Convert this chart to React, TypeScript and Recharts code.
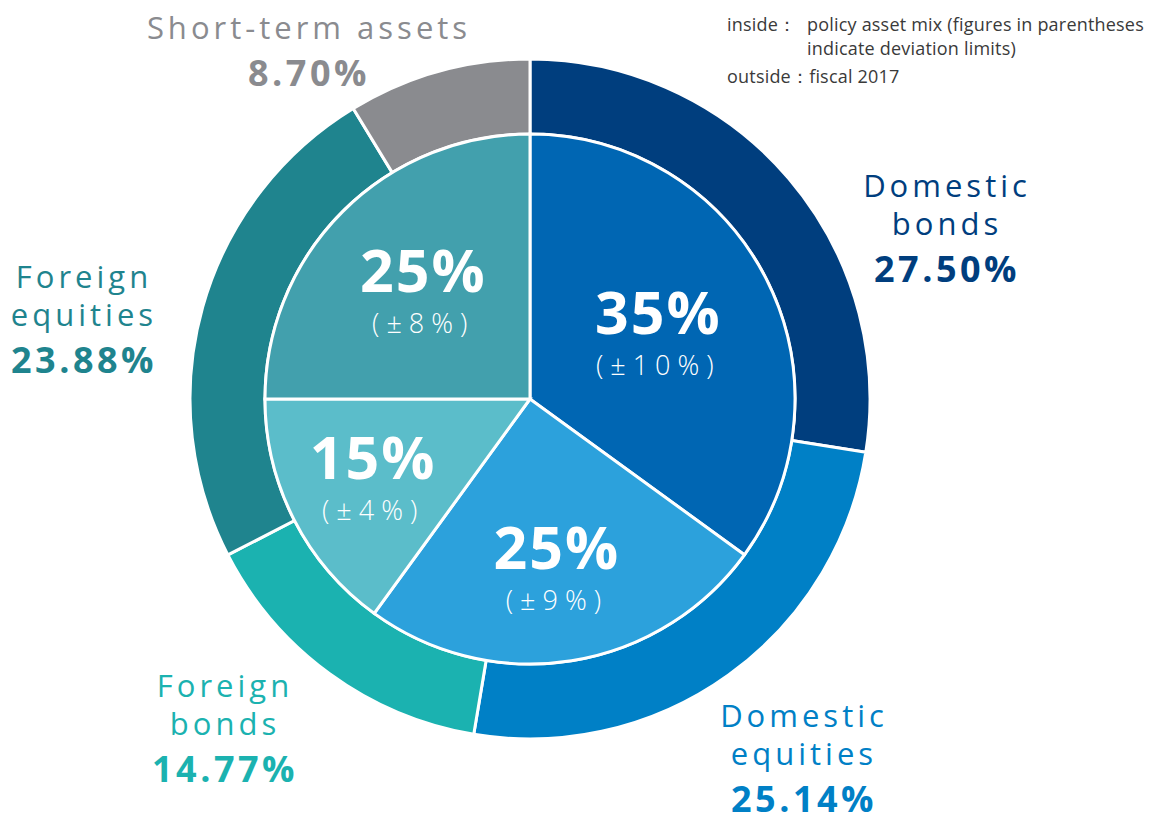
import { PieChart, Pie, Cell } from "recharts";

const categories = [
  "Domestic bonds",
  "Domestic equities",
  "Foreign bonds",
  "Foreign equities",
  "Short-term assets",
];

// outside ring: fiscal 2017 actual allocation
const actual2017 = [27.5, 25.14, 14.77, 23.88, 8.7];
// inside pie: policy asset mix
const policyMix = [35, 25, 15, 25];
const deviationLimits = [10, 9, 4, 8];

const outerColors = ["#003e7e", "#0080c6", "#1bb2b0", "#1f848e", "#8a8b8f"];
const innerColors = ["#0066b3", "#2ca1dc", "#5bbdca", "#42a0ad"];

const outerData = categories.map((name, i) => ({ name, value: actual2017[i] }));
const innerData = policyMix.map((value, i) => ({
  name: categories[i],
  value,
  limit: deviationLimits[i],
}));

const FONT = "'Open Sans', 'Noto Sans', sans-serif";
const RADIAN = Math.PI / 180;

// label placement (relative to the pie centre)
const innerLabelR = [144, 172, 176, 151];
const outerLabelPos = [
  { dx: 417, dy: -202, lines: ["Domestic", "bonds"] },
  { dx: 274, dy: 328, lines: ["Domestic", "equities"] },
  { dx: -305, dy: 298, lines: ["Foreign", "bonds"] },
  { dx: -446, dy: -111, lines: ["Foreign", "equities"] },
  { dx: -221, dy: -360, lines: ["Short-term assets"] },
];

const renderInnerLabel = (props: any) => {
  const { cx, cy, midAngle, index, payload } = props;
  const r = innerLabelR[index];
  const x = cx + r * Math.cos(-midAngle * RADIAN);
  const y = cy + r * Math.sin(-midAngle * RADIAN);
  return (
    <g key={`in-${index}`}>
      <text
        x={x}
        y={y}
        textAnchor="middle"
        fill="#fff"
        fontFamily={FONT}
        fontWeight={700}
        fontSize={59}
        letterSpacing={2}
      >
        {`${payload.value}%`}
      </text>
      <text
        x={x}
        y={y + 41}
        textAnchor="middle"
        fill="#fff"
        fontFamily={FONT}
        fontWeight={300}
        fontSize={27}
        letterSpacing={7}
      >
        {`(±${payload.limit}%)`}
      </text>
    </g>
  );
};

const renderOuterLabel = (props: any) => {
  const { cx, cy, index, payload } = props;
  const pos = outerLabelPos[index];
  const x = cx + pos.dx;
  const y = cy + pos.dy;
  const color = outerColors[index];
  return (
    <g key={`out-${index}`}>
      {pos.lines.map((line, li) => (
        <text
          key={li}
          x={x}
          y={y + li * 38}
          textAnchor="middle"
          fill={color}
          fontFamily={FONT}
          fontSize={31}
          letterSpacing={4}
        >
          {line}
        </text>
      ))}
      <text
        x={x}
        y={y + (pos.lines.length - 1) * 38 + 47}
        textAnchor="middle"
        fill={color}
        fontFamily={FONT}
        fontWeight={700}
        fontSize={36}
        letterSpacing={3.5}
      >
        {`${payload.value.toFixed(2)}%`}
      </text>
    </g>
  );
};

export default function App() {
  return (
    <div style={{ position: "absolute", left: 0, top: 0, width: 1166, height: 817, background: "#fff" }}>
      <PieChart width={1166} height={817} margin={{ top: 0, right: 0, bottom: 0, left: 0 }}>
        <Pie
          data={outerData}
          dataKey="value"
          cx={530}
          cy={399}
          innerRadius={265}
          outerRadius={340}
          startAngle={90}
          endAngle={-270}
          stroke="#fff"
          strokeWidth={3}
          label={renderOuterLabel}
          labelLine={false}
          isAnimationActive={false}
        >
          {outerData.map((d, i) => (
            <Cell key={d.name} fill={outerColors[i]} />
          ))}
        </Pie>
        <Pie
          data={innerData}
          dataKey="value"
          cx={530}
          cy={399}
          innerRadius={0}
          outerRadius={265}
          startAngle={90}
          endAngle={-270}
          stroke="#fff"
          strokeWidth={3}
          label={renderInnerLabel}
          labelLine={false}
          isAnimationActive={false}
        >
          {innerData.map((d, i) => (
            <Cell key={d.name} fill={innerColors[i]} />
          ))}
        </Pie>
      </PieChart>
      <div
        style={{
          position: "absolute",
          left: 727,
          top: 12,
          fontFamily: FONT,
          fontSize: 18,
          letterSpacing: 0.2,
          color: "#3a3a3a",
          lineHeight: "24px",
        }}
      >
        <div style={{ display: "flex" }}>
          <span style={{ width: 80 }}>inside：</span>
          <span>
            policy asset mix (figures in parentheses
            <br />
            indicate deviation limits)
          </span>
        </div>
        <div style={{ marginTop: 4 }}>outside：fiscal 2017</div>
      </div>
    </div>
  );
}
